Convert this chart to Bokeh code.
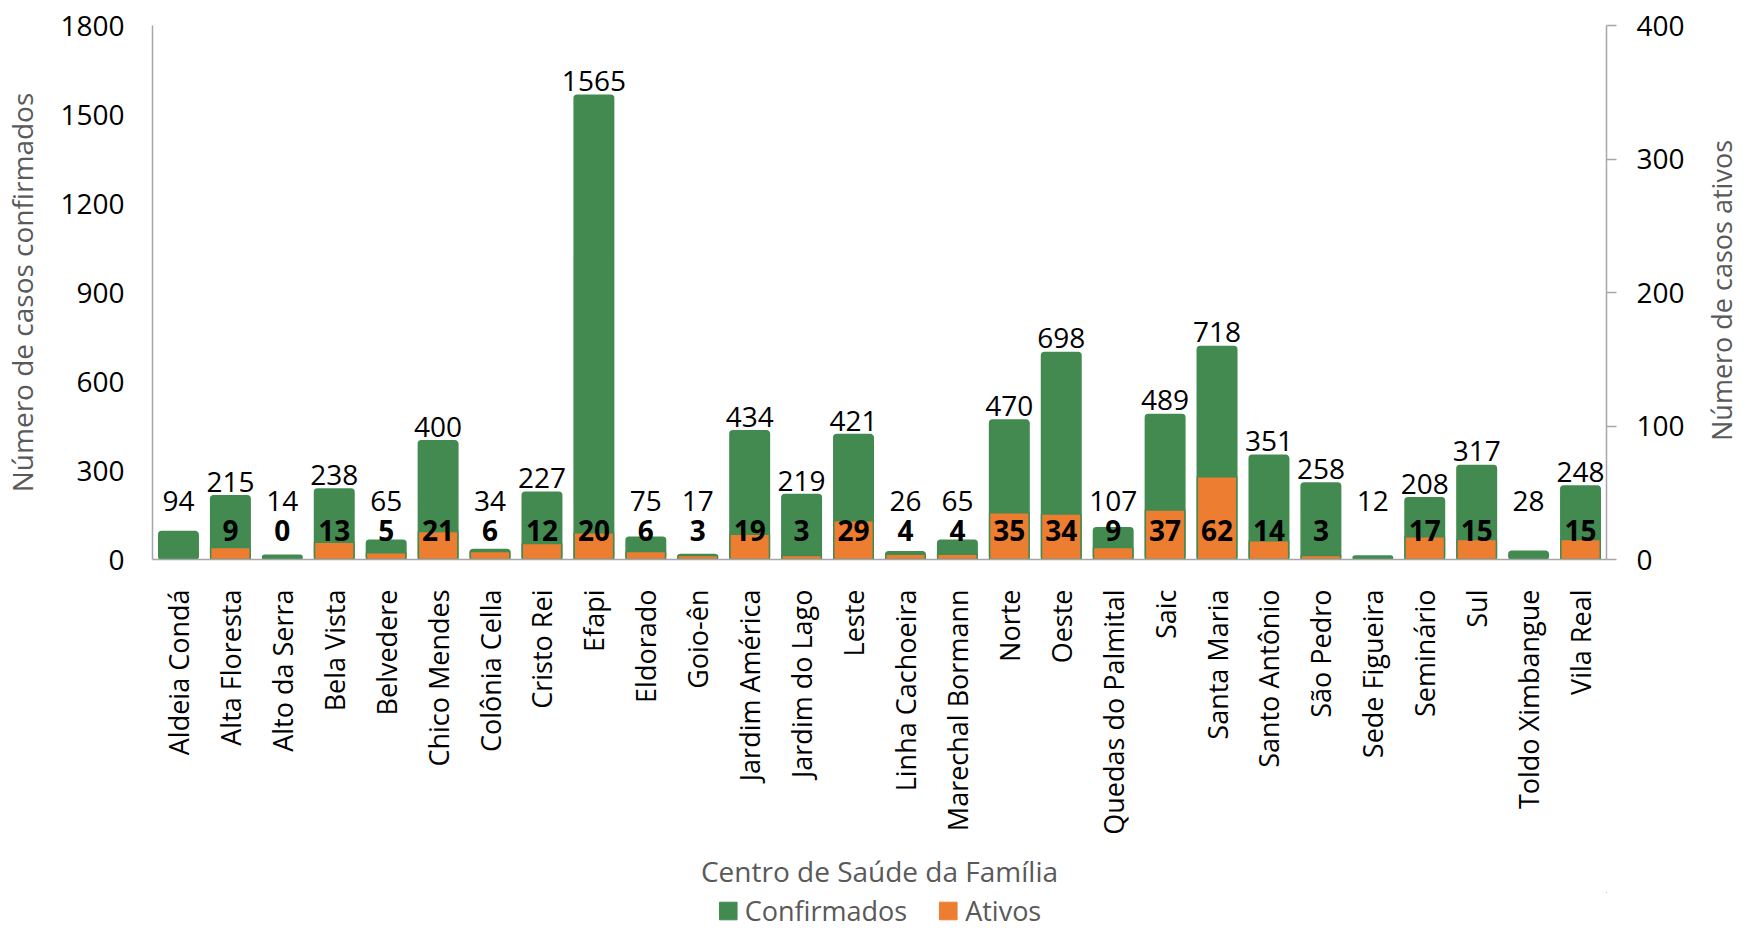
import math
from bokeh.plotting import figure
from bokeh.layouts import column, row
from bokeh.models import (Range1d, LinearAxis, FixedTicker, Legend,
                          LegendItem, ColumnDataSource, FactorRange, Label)
from bokeh.core.properties import value
from bokeh.embed import file_html
from bokeh.resources import INLINE

categorias = ["Aldeia Condá", "Alta Floresta", "Alto da Serra", "Bela Vista",
              "Belvedere", "Chico Mendes", "Colônia Cella", "Cristo Rei",
              "Efapi", "Eldorado", "Goio-ên", "Jardim América",
              "Jardim do Lago", "Leste", "Linha Cachoeira", "Marechal Bormann",
              "Norte", "Oeste", "Quedas do Palmital", "Saic", "Santa Maria",
              "Santo Antônio", "São Pedro", "Sede Figueira", "Seminário",
              "Sul", "Toldo Ximbangue", "Vila Real"]
confirmados = [94, 215, 14, 238, 65, 400, 34, 227, 1565, 75, 17, 434, 219,
               421, 26, 65, 470, 698, 107, 489, 718, 351, 258, 12, 208, 317,
               28, 248]
ativos = [None, 9, 0, 13, 5, 21, 6, 12, 20, 6, 3, 19, 3, 29, 4, 4, 35, 34, 9,
          37, 62, 14, 3, None, 17, 15, None, 15]
ticks_conf = [0, 300, 600, 900, 1200, 1500, 1800]
ticks_ativos = [0, 100, 200, 300, 400]
series_names = ["Confirmados", "Ativos"]

GREEN = "#428a50"
ORANGE = "#ed7d31"
GRAY = "#a6a6a6"
TITLE_GRAY = "#595959"
FONT = "Open Sans"
FS = "28px"
FS_X = "27px"

MAIN_W = 1702
MAIN_H = 892

src = ColumnDataSource(dict(
    cat=categorias,
    conf=confirmados,
    atv=[float("nan") if a is None else a for a in ativos],
    lbl_y=[max(v, 150) for v in confirmados],
    conf_txt=[str(v) for v in confirmados],
))
idx = [i for i, a in enumerate(ativos) if a is not None]
src_atv = ColumnDataSource(dict(
    cat=[categorias[i] for i in idx],
    txt=[str(ativos[i]) for i in idx],
))

p = figure(x_range=FactorRange(factors=categorias, range_padding=0),
           y_range=Range1d(0, 1800),
           width=MAIN_W, height=MAIN_H,
           min_border_left=149, min_border_right=MAIN_W - 1606,
           min_border_top=25, min_border_bottom=MAIN_H - 560,
           output_backend="svg", toolbar_location=None)
p.extra_y_ranges = {"ativos": Range1d(0, 400)}

p.vbar(x="cat", top="conf", width=0.76, source=src,
       fill_color=GREEN, line_color=GREEN, line_width=1.5, border_radius=3)
p.vbar(x="cat", top="atv", width=0.76, source=src, y_range_name="ativos",
       fill_color=ORANGE, line_color=GREEN, line_width=1.5)

p.text(x="cat", y="lbl_y", text="conf_txt", source=src,
       text_align="center", text_baseline="bottom", y_offset=-4,
       text_font=value(FONT), text_font_size=FS, text_color="black")
p.text(x="cat", y=0, text="txt", source=src_atv, y_range_name="ativos",
       text_align="center", text_baseline="middle", y_offset=-29,
       text_font=value(FONT), text_font_size=FS, text_font_style="bold",
       text_color="black")

p.grid.visible = False
p.outline_line_color = None

# left axis
ya = p.yaxis[0]
ya.ticker = FixedTicker(ticks=ticks_conf)
ya.major_tick_out = 0
ya.major_tick_in = 0
ya.minor_tick_out = 0
ya.minor_tick_in = 0
ya.axis_line_color = GRAY
ya.axis_line_width = 1.5
ya.major_label_standoff = 28
ya.major_label_text_font = FONT
ya.major_label_text_font_size = FS
ya.major_label_text_color = "black"
ya.axis_label = "Número de casos confirmados"
ya.axis_label_standoff = 16
ya.axis_label_text_font = FONT
ya.axis_label_text_font_size = FS
ya.axis_label_text_font_style = "normal"
ya.axis_label_text_color = TITLE_GRAY

# right axis
ra = LinearAxis(y_range_name="ativos", ticker=FixedTicker(ticks=ticks_ativos))
ra.major_tick_out = 10
ra.major_tick_in = 0
ra.minor_tick_out = 0
ra.minor_tick_in = 0
ra.major_tick_line_color = GRAY
ra.major_tick_line_width = 1.5
ra.axis_line_color = GRAY
ra.axis_line_width = 1.5
ra.major_label_standoff = 20
ra.major_label_text_font = FONT
ra.major_label_text_font_size = FS
ra.major_label_text_color = "black"
p.add_layout(ra, "right")

# x axis
xa = p.xaxis[0]
xa.major_label_orientation = math.pi / 2
xa.major_tick_out = 0
xa.major_tick_in = 0
xa.axis_line_color = GRAY
xa.axis_line_width = 1.5
xa.major_label_standoff = 30
xa.major_label_text_font = FONT
xa.major_label_text_font_size = FS_X
xa.major_label_text_color = "black"
xa.axis_label = "Centro de Saúde da Família"
xa.axis_label_standoff = 14
xa.axis_label_text_font = FONT
xa.axis_label_text_font_size = FS
xa.axis_label_text_font_style = "normal"
xa.axis_label_text_color = TITLE_GRAY

# legend strip below the chart
lg = figure(width=MAIN_W, height=928 - MAIN_H,
            x_range=Range1d(0, 1), y_range=Range1d(0, 1),
            min_border_left=149, min_border_right=MAIN_W - 1606,
            min_border_top=0, min_border_bottom=0,
            output_backend="svg", toolbar_location=None)
lg.axis.visible = False
lg.grid.visible = False
lg.outline_line_color = None
g1 = lg.vbar(x=[10], top=[10], bottom=[9], width=0.1,
             fill_color=GREEN, line_color=GREEN)
g2 = lg.vbar(x=[10], top=[10], bottom=[9], width=0.1,
             fill_color=ORANGE, line_color=ORANGE)
legend = Legend(items=[LegendItem(label=series_names[0], renderers=[g1]),
                       LegendItem(label=series_names[1], renderers=[g2])],
                location="center", orientation="horizontal",
                padding=0, margin=0, spacing=30, label_standoff=6,
                glyph_width=22, glyph_height=22,
                label_text_font=FONT, label_text_font_size=FS_X,
                label_text_color=TITLE_GRAY,
                border_line_color=None, background_fill_alpha=0)
lg.add_layout(legend)

# right-hand axis title (reads bottom to top)
rt = figure(width=1740 - MAIN_W, height=928,
            x_range=Range1d(0, 1), y_range=Range1d(0, 928),
            min_border_left=0, min_border_right=0,
            min_border_top=0, min_border_bottom=0,
            output_backend="svg", toolbar_location=None)
rt.axis.visible = False
rt.grid.visible = False
rt.outline_line_color = None
rt.add_layout(Label(x=0.5, y=928 - 290, text="Número de casos ativos",
                    angle=math.pi / 2, text_align="center",
                    text_baseline="middle", text_font=FONT,
                    text_font_size=FS_X, text_color=TITLE_GRAY))

layout = row(column(p, lg, spacing=0), rt, spacing=0)
open("out.html", "w").write(file_html(layout, INLINE))
